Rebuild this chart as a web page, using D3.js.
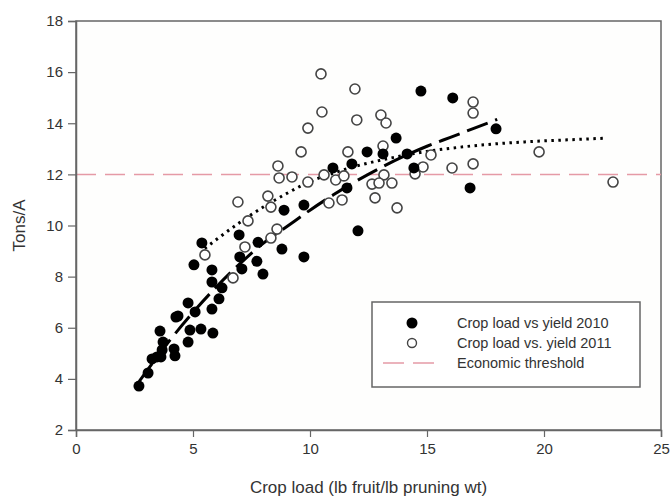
<!DOCTYPE html>
<html><head><meta charset="utf-8">
<script src="https://cdn.jsdelivr.net/npm/d3@7"></script>
<style>
body{margin:0;background:#fff;}
text{font-family:"Liberation Sans",Arial,sans-serif;fill:#333;}
</style></head>
<body><svg id="chart" width="671" height="500"></svg>
<script>
// 2010 data: [crop load, tons/A]
const x2010 = [2.69,3.08,3.25,3.46,3.63,3.68,3.59,3.72,4.19,4.23,4.27,4.36,4.79,5.09,4.87,5.34,4.79,5.85,5.04,5.81,5.81,6.24,6.11,5.81,5.38,6.97,7.0,7.09,7.73,7.78,7.99,8.89,8.8,9.74,9.74,10.98,11.58,11.79,12.05,12.44,13.12,13.68,14.15,14.44,14.74,16.1,16.84,17.95];
const y2010 = [3.72,4.23,4.78,4.86,4.86,5.13,5.87,5.44,5.17,4.90,6.42,6.46,6.97,6.62,5.91,5.95,5.44,5.79,8.46,8.26,7.79,7.56,7.13,6.73,9.32,9.63,8.77,8.30,8.60,9.34,8.10,10.6,9.08,8.77,10.8,12.25,11.47,12.41,9.79,12.88,12.80,13.42,12.80,12.25,15.26,14.99,11.47,13.78];
// 2011 data
const x2011 = [10.47,11.92,10.51,12.0,13.03,13.25,9.91,9.62,11.62,13.12,15.17,14.83,16.07,8.63,8.68,9.23,10.6,11.1,11.45,9.91,13.16,12.65,12.95,13.5,14.49,8.2,12.78,10.81,11.37,13.72,16.97,16.97,16.97,19.79,22.95,6.92,8.33,7.35,8.59,8.33,7.22,6.71,5.51];
const y2011 = [15.93,15.34,14.44,14.13,14.32,14.01,13.81,12.88,12.88,13.11,12.76,12.29,12.25,12.33,11.86,11.9,11.98,11.78,11.94,11.7,11.98,11.62,11.66,11.66,12.02,11.15,11.08,10.88,11.0,10.69,14.83,14.4,12.41,12.88,11.7,10.92,10.72,10.18,9.86,9.51,9.16,7.95,8.85];
// fitted curves
const fit2010X = [2.7,4,5,6,7,8,9,10,11,12,13,14,15,16,17,18];
const fit2010Y = [3.9,5.5,6.6,7.6,8.5,9.3,9.95,10.6,11.2,11.75,12.25,12.7,13.1,13.45,13.8,14.15];
const fit2011X = [5.5,6,7,8,9,10,11,12,13,14,15,16,17,18,19,20,21,22,22.7];
const fit2011Y = [9.1,9.45,10.12,10.72,11.25,11.72,12.05,12.33,12.55,12.74,12.9,13.02,13.12,13.2,13.26,13.31,13.35,13.39,13.42];
const threshold = 12;
const xTicks = [0,5,10,15,20,25];
const yTicks = [2,4,6,8,10,12,14,16,18];
const legendLabels = ["Crop load vs yield 2010","Crop load vs. yield 2011","Economic threshold"];

const svg = d3.select("#chart");
const L=76,R=661,T=21,B=430;
const x = d3.scaleLinear().domain([0,25]).range([L,R]);
const y = d3.scaleLinear().domain([2,18]).range([B,T]);

// frame
svg.append("rect").attr("x",L).attr("y",T).attr("width",R-L).attr("height",B-T)
  .attr("fill","#fefefd").attr("stroke","#666").attr("stroke-width",1.5);

// threshold
svg.append("line").attr("x1",x(0)).attr("x2",x(25)).attr("y1",y(threshold)).attr("y2",y(threshold))
  .attr("stroke","#e59aa6").attr("stroke-width",1.5).attr("stroke-dasharray","20,9");

// axes
const xAxis = svg.append("g").attr("transform",`translate(0,${B})`)
  .call(d3.axisBottom(x).tickValues(xTicks).tickSize(7).tickPadding(6));
const yAxis = svg.append("g").attr("transform",`translate(${L},0)`)
  .call(d3.axisLeft(y).tickValues(yTicks).tickSize(8).tickPadding(5));
[xAxis,yAxis].forEach(a=>{
  a.selectAll(".domain").attr("stroke","#666").attr("stroke-width",1.5);
  a.selectAll(".tick line").attr("stroke","#666").attr("stroke-width",1.2);
  a.selectAll(".tick text").attr("font-size",15).attr("fill","#333")
   .style("font-family","'Liberation Sans',Arial,sans-serif");
});

// fit lines
const line = d3.line().x(d=>x(d[0])).y(d=>y(d[1])).curve(d3.curveMonotoneX);
svg.append("path").datum(fit2011X.map((v,i)=>[v,fit2011Y[i]]))
  .attr("d",line).attr("fill","none").attr("stroke","#000").attr("stroke-width",3)
  .attr("stroke-dasharray","2.5,4.5");
svg.append("path").datum(fit2010X.map((v,i)=>[v,fit2010Y[i]]))
  .attr("d",line).attr("fill","none").attr("stroke","#000").attr("stroke-width",3)
  .attr("stroke-dasharray","22,8");

// points
svg.append("g").selectAll("circle").data(x2011.map((v,i)=>[v,y2011[i]])).join("circle")
  .attr("cx",d=>x(d[0])).attr("cy",d=>y(d[1])).attr("r",5)
  .attr("fill","#fff").attr("stroke","#444").attr("stroke-width",1.6);
svg.append("g").selectAll("circle").data(x2010.map((v,i)=>[v,y2010[i]])).join("circle")
  .attr("cx",d=>x(d[0])).attr("cy",d=>y(d[1])).attr("r",5.5).attr("fill","#000");

// axis titles
svg.append("text").attr("x",(L+R)/2).attr("y",493).attr("text-anchor","middle")
  .attr("font-size",17).text("Crop load (lb fruit/lb pruning wt)");
svg.append("text").attr("transform",`translate(25,${(T+B)/2}) rotate(-90)`).attr("text-anchor","middle")
  .attr("font-size",17).text("Tons/A");

// legend
const lg = svg.append("g");
lg.append("rect").attr("x",372).attr("y",302).attr("width",268).attr("height",85)
  .attr("fill","#fff").attr("stroke","#666").attr("stroke-width",1.5);
const ly=[323,343,363];
lg.append("circle").attr("cx",412).attr("cy",ly[0]).attr("r",5.5).attr("fill","#000");
lg.append("circle").attr("cx",412).attr("cy",ly[1]).attr("r",4.5).attr("fill","#fff").attr("stroke","#444").attr("stroke-width",1.4);
lg.append("line").attr("x1",383).attr("x2",435).attr("y1",ly[2]).attr("y2",ly[2])
  .attr("stroke","#e59aa6").attr("stroke-width",1.5).attr("stroke-dasharray","21,9");
legendLabels.forEach((t,i)=>{
  lg.append("text").attr("x",457).attr("y",ly[i]+5).attr("font-size",14.5).text(t);
});
</script></body></html>
